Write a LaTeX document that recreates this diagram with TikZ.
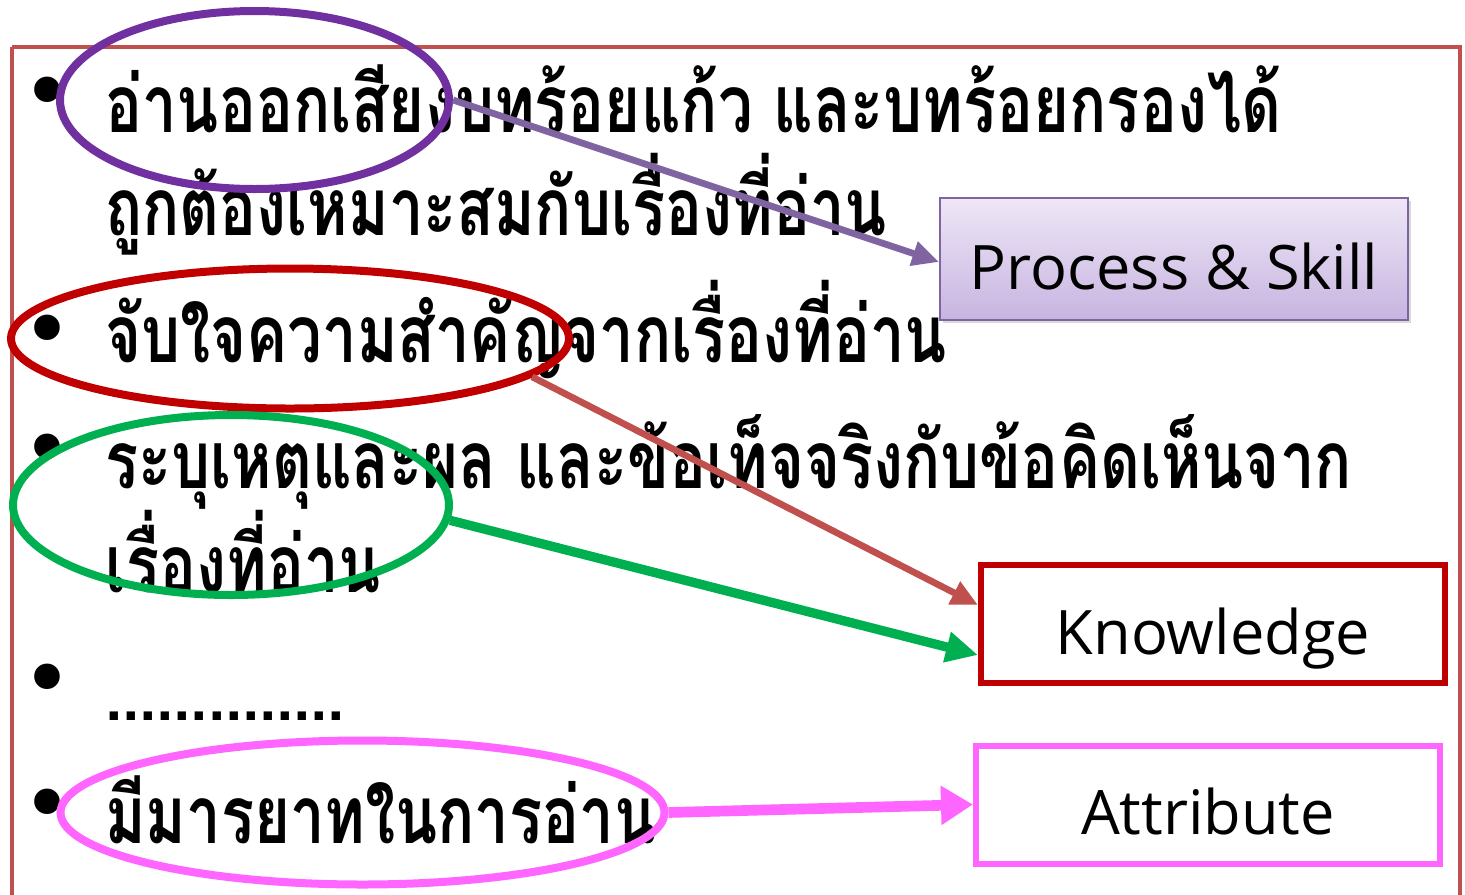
\documentclass[tikz,border=0pt]{standalone}
\usepackage{fontspec}
\usetikzlibrary{shapes.geometric,arrows.meta,calc,shadows}
\newfontfamily\thaifont[Script=Thai,FakeStretch=0.77]{Loma}
\newfontfamily\bulletfont{DejaVu Sans}
\newfontfamily\labelfont{Open Sans}
\definecolor{frameRed}{RGB}{192,80,77}
\definecolor{circPurple}{RGB}{112,48,160}
\definecolor{arrPurple}{RGB}{128,100,162}
\definecolor{darkRed}{RGB}{192,0,0}
\definecolor{brightGreen}{RGB}{0,176,80}
\definecolor{pinkMag}{RGB}{255,102,255}
\definecolor{boxTop}{RGB}{238,231,247}
\definecolor{boxBottom}{RGB}{199,180,224}
\tikzset{
  thaiLine/.style={anchor=base west, inner sep=0pt, font=\thaifont\bfseries\fontsize{60}{60}\selectfont},
  bulletMark/.style={inner sep=0pt, font=\bulletfont\fontsize{66}{66}\selectfont},
  ring/.style={ellipse, draw, line width=6pt, inner sep=0pt},
  labelBox/.style={rectangle, inner sep=0pt, text height=45pt, text depth=0pt,
                   font=\labelfont\fontsize{46}{46}\selectfont},
}
\begin{document}
\begin{tikzpicture}[x=0.75pt,y=0.75pt,yscale=-1,xscale=1]
\useasboundingbox (0,0) rectangle (1465,894);

%Frame
\draw [frameRed, line width=3pt] (12,47) -- (12,900) (12,47) -- (1460,47) -- (1460,900);

% Bullets
\node [bulletMark] (b1) at (47,100) {•};
\node [bulletMark] (b3) at (47,338) {•};
\node [bulletMark] (b4) at (47,457) {•};
\node [bulletMark] (b6) at (47,687) {•};
\node [bulletMark] (b7) at (47,812) {•};

% Text Nodes
\node [thaiLine] (t1) at (105,132) {อ่านออกเสียงบทร้อยแก้ว และบทร้อยกรองได้};
\node [thaiLine] (t2) at (105,235) {ถูกต้องเหมาะสมกับเรื่องที่อ่าน};
\node [thaiLine] (t3) at (105,362) {จับใจความสำคัญจากเรื่องที่อ่าน};
\node [thaiLine] (t4) at (105,488) {ระบุเหตุและผล และข้อเท็จจริงกับข้อคิดเห็นจาก};
\node [thaiLine] (t5) at (105,592) {เรื่องที่อ่าน};
\node [thaiLine] (t6) at (105,720) {..............};
\node [thaiLine] (t7) at (105,843) {มีมารยาทในการอ่าน};

% Ellipses
\node [ring, circPurple, minimum width=291.75pt, minimum height=133.5pt] (oRead) at (254.5,100) {};
\node [ring, darkRed, minimum width=418.5pt, minimum height=105pt] (oMain) at (290,338.5) {};
\node [ring, brightGreen, minimum width=327pt, minimum height=135pt] (oCause) at (231,505) {};
\node [ring, pinkMag, minimum width=453pt, minimum height=108pt] (oManner) at (362.5,812.5) {};

% Boxes
\node [labelBox, draw=arrPurple, line width=1.5pt, top color=boxTop, bottom color=boxBottom,
       drop shadow={opacity=0.3}, minimum width=351pt, minimum height=91.5pt] (ps) at (1174,259) {Process \& Skill};
\node [labelBox, draw=darkRed, line width=4.5pt, minimum width=348pt, minimum height=88.5pt] (kn) at (1213,624) {Knowledge};
\node [labelBox, draw=pinkMag, line width=4.5pt, minimum width=348pt, minimum height=88.5pt] (at) at (1208,804.5) {Attribute};

% Arrows
\draw [arrPurple, line width=5pt, -{Triangle[length=20pt,width=18pt]}] (oRead.0) -- ($(ps.west)+(0,3)$);
\draw [frameRed, line width=5pt, -{Triangle[length=20pt,width=18pt]}] (oMain.-9) -- ($(kn.west)+(0,-19)$);
\draw [brightGreen, line width=7pt, -{Triangle[length=24pt,width=22pt]}] (oCause.-4) -- ($(kn.west)+(0,31)$);
\draw [pinkMag, line width=8pt, -{Triangle[length=24pt,width=28pt]}] (oManner.east) -- (at.west);

\end{tikzpicture}
\end{document}
